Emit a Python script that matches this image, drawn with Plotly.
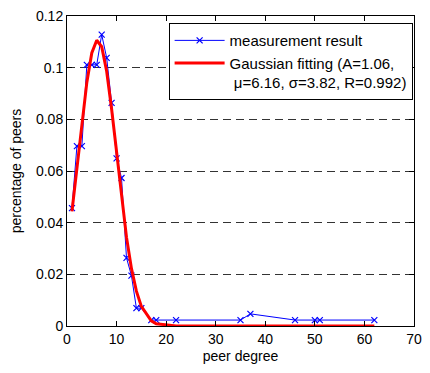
import plotly.graph_objects as go

degree = [1, 2, 3, 4, 5, 6, 7, 8, 9, 10, 11, 12, 13, 14, 15, 17, 18, 22, 35, 37, 46, 50, 51, 62]
measured = [0.0456, 0.0696, 0.0696, 0.1011, 0.1011, 0.1011, 0.1128, 0.1038, 0.0864, 0.0649,
            0.0573, 0.0264, 0.0195, 0.0069, 0.0069, 0.0023, 0.0023, 0.0023, 0.0023, 0.0047,
            0.0023, 0.0023, 0.0023, 0.0023]
fitted = [0.0444, 0.0612, 0.0786, 0.0943, 0.1057, 0.1106, 0.1081, 0.0986, 0.0840, 0.0668,
          0.0496, 0.0344, 0.0223, 0.0135, 0.0076, 0.0020, 0.0009, 0.0000, 0.0, 0.0,
          0.0, 0.0, 0.0, 0.0]
x_ticks = [0, 10, 20, 30, 40, 50, 60, 70]
y_ticks = [0, 0.02, 0.04, 0.06, 0.08, 0.1, 0.12]

FONT = "Liberation Sans, Arial, sans-serif"
FS = 14

fig = go.Figure()
fig.add_trace(go.Scatter(
    x=degree, y=measured, mode="lines+markers", name="measurement result",
    line=dict(color="#0000ff", width=1),
    marker=dict(symbol="x-thin", size=6, line=dict(color="#0000ff", width=1.2), color="#0000ff"),
))
fig.add_trace(go.Scatter(
    x=degree, y=fitted, mode="lines",
    name="Gaussian fitting (A=1.06,<br> \u03bc=6.16, \u03c3=3.82, R=0.992)",
    line=dict(color="#ff0000", width=3),
))

axis_common = dict(
    showline=True, linecolor="black", linewidth=1, mirror="allticks",
    ticks="inside", ticklen=5, tickcolor="black", zeroline=False,
    tickfont=dict(family=FONT, size=FS, color="black"),
)

fig.update_xaxes(
    range=[0, 70], tickvals=x_ticks, showgrid=False,
    title=dict(text="peer degree", font=dict(family=FONT, size=FS, color="black"), standoff=5),
    **axis_common,
)
fig.update_yaxes(
    range=[0, 0.12], tickvals=y_ticks, showgrid=True,
    gridcolor="#333333", griddash="8px,5px", gridwidth=1,
    title=dict(text="percentage of peers", font=dict(family=FONT, size=FS, color="black"), standoff=11),
    **axis_common,
)

fig.update_layout(
    width=430, height=373,
    margin=dict(l=67, r=8, t=10, b=47),
    paper_bgcolor="white", plot_bgcolor="white",
    font=dict(family=FONT, size=FS, color="black"),
    legend=dict(
        x=0.996, y=0.977, xanchor="right", yanchor="top",
        bordercolor="black", borderwidth=1, bgcolor="white",
        font=dict(family=FONT, size=15, color="black"),
        valign="top", tracegroupgap=0, itemwidth=50,
    ),
    showlegend=True,
)

fig.write_html("out.html")
